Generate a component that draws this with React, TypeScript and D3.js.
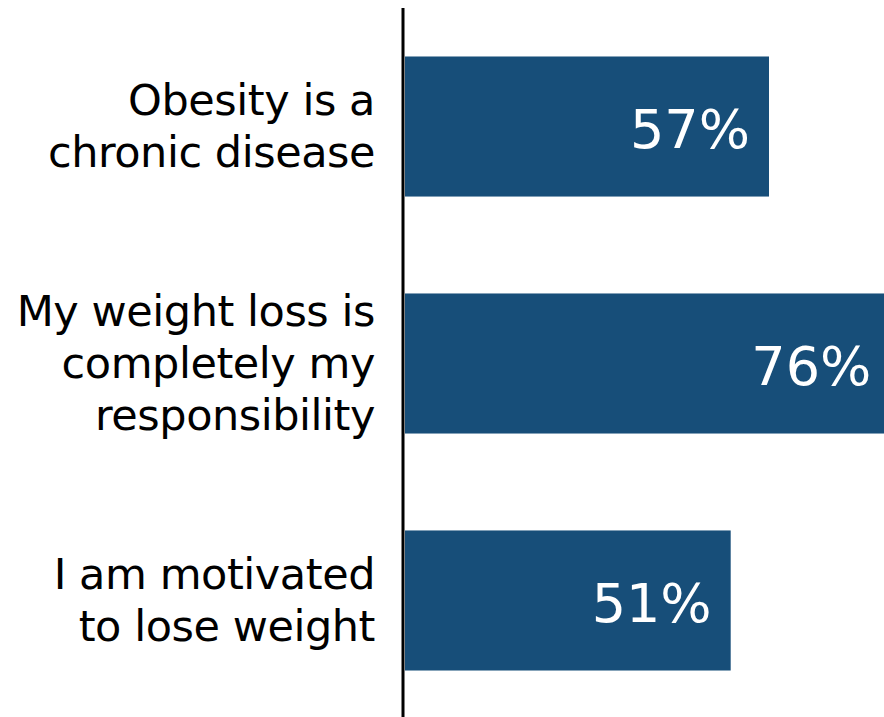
import React from "react";
import * as d3 from "d3";

const categories: string[][] = [
  ["Obesity is a", "chronic disease"],
  ["My weight loss is", "completely my", "responsibility"],
  ["I am motivated", "to lose weight"],
];
const categoryKeys = ["c1", "c2", "c3"];
const values = [57, 76, 51];
const valueLabels = ["57%", "76%", "51%"];

const W = 884;
const H = 717;
const FONT = "Verdana, 'DejaVu Sans', sans-serif";

export default function App() {
  const y = d3
    .scaleBand<string>()
    .domain(categoryKeys)
    .range([8, 719])
    .paddingInner(0.409)
    .paddingOuter(0.2046);
  const x = d3.scaleLinear().domain([0, 100]).range([405, 1043.6]);
  const labelSize = 43;
  const lineH = 52;
  const valueSize = 54;

  return (
    <div style={{ position: "fixed", left: 0, top: 0 }}>
      <svg width={W} height={H} style={{ display: "block" }}>
        <rect width={W} height={H} fill="#ffffff" />
        {categoryKeys.map((k, i) => {
          const y0 = y(k)!;
          const bw = y.bandwidth();
          const cy = y0 + bw / 2;
          const lines = categories[i];
          const firstBase = cy + 0.34 * labelSize - ((lines.length - 1) * lineH) / 2;
          return (
            <g key={k}>
              <rect x={x(0)} y={y0} width={x(values[i]) - x(0)} height={bw} fill="#174E79" />
              <text
                x={x(values[i]) - 19}
                y={cy + 0.39 * valueSize}
                textAnchor="end"
                fill="#ffffff"
                fontFamily={FONT}
                fontSize={valueSize}
              >
                {valueLabels[i]}
              </text>
              {lines.map((ln, j) => (
                <text
                  key={j}
                  x={375}
                  y={firstBase + j * lineH}
                  textAnchor="end"
                  fill="#000000"
                  fontFamily={FONT}
                  fontSize={labelSize}
                  letterSpacing={-0.45}
                >
                  {ln}
                </text>
              ))}
            </g>
          );
        })}
        <line x1={403} x2={403} y1={8} y2={H} stroke="#000000" strokeWidth={3} />
      </svg>
    </div>
  );
}
